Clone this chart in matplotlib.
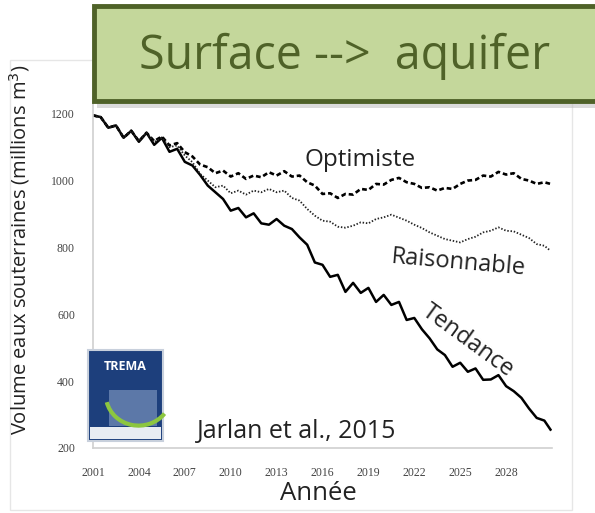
import numpy as np
import matplotlib
matplotlib.use("Agg")
import matplotlib.pyplot as plt
from matplotlib.patches import Rectangle, Arc

plt.rcParams['font.family'] = ['Open Sans', 'DejaVu Sans']

# half-year time steps (last point ends late 2030)
years = list(np.arange(2001.0, 2031.0, 0.5)) + [2030.9]

tendance = [1195, 1190, 1158, 1165, 1128, 1149, 1116, 1143, 1107, 1128,
            1086, 1095, 1056, 1045, 1017, 985, 965, 945, 910, 918,
            890, 902, 872, 868, 885, 865, 855, 830, 808, 755,
            748, 712, 718, 667, 694, 664, 679, 637, 658, 628,
            637, 583, 589, 555, 528, 495, 478, 443, 455, 428,
            438, 404, 405, 418, 385, 370, 350, 318, 290, 282, 255]

optimiste = [1195, 1190, 1158, 1165, 1128, 1149, 1118, 1143, 1118, 1132,
             1105, 1112, 1085, 1072, 1048, 1040, 1022, 1030, 1012, 1022,
             1005, 1015, 1010, 1025, 1015, 1028, 1012, 1015, 995, 985,
             960, 962, 948, 960, 958, 975, 972, 990, 988, 1002,
             1008, 995, 990, 978, 980, 970, 978, 975, 990, 1000,
             1002, 1015, 1012, 1026, 1018, 1022, 1005, 1000, 990, 995, 990]

raisonnable = [1195, 1190, 1158, 1165, 1128, 1149, 1118, 1143, 1115, 1128,
               1100, 1105, 1075, 1055, 1020, 1000, 980, 985, 962, 970,
               958, 970, 965, 975, 965, 970, 948, 940, 915, 895,
               880, 877, 862, 859, 865, 875, 872, 885, 890, 898,
               889, 880, 868, 858, 845, 835, 825, 820, 815, 825,
               832, 845, 850, 860, 850, 848, 838, 828, 810, 805, 790]

xticks = [2001, 2004, 2007, 2010, 2013, 2016, 2019, 2022, 2025, 2028]
yticks = [200, 400, 600, 800, 1000, 1200]

fig = plt.figure(figsize=(5.95, 5.13), dpi=100)
fig.patch.set_facecolor('white')

# light frame of the pasted chart image
fig.patches.append(Rectangle((10 / 595, 0.005), 562 / 595, 450 / 513, transform=fig.transFigure,
                             fill=False, edgecolor='#e6e6e6', linewidth=1.0))

ax = fig.add_axes([93 / 595, 1 - 448 / 513, 459 / 595, 351 / 513])
ax.plot(years, tendance, color='black', linewidth=1.8)
ax.plot(years, optimiste, color='black', linewidth=1.9, linestyle=(0, (1.8, 1.1)))
ax.plot(years, raisonnable, color='#222222', linewidth=1.3, linestyle=(0, (0.8, 1.0)))

ax.set_xlim(2001, 2031)
ax.set_ylim(200, 1250)
ax.set_xticks(xticks)
ax.set_yticks(yticks)
ax.set_xticklabels([str(x) for x in xticks], fontsize=8.5, color='#444444', family='Liberation Serif')
ax.set_yticklabels([str(y) for y in yticks], fontsize=8.5, color='#444444', family='Liberation Serif')
ax.tick_params(axis='x', length=0, pad=14)
ax.tick_params(axis='y', length=0, pad=13)
for side in ['top', 'right']:
    ax.spines[side].set_visible(False)
for side in ['left', 'bottom']:
    ax.spines[side].set_color('#d0d0d0')
    ax.spines[side].set_linewidth(1.2)

# curve labels
ax.text(2014.8, 1062, 'Optimiste', fontsize=17.5, color='#222222', ha='left', va='center')
ax.text(2020.5, 772, 'Raisonnable', fontsize=17, color='#222222', ha='left', va='center',
        rotation=-5, rotation_mode='anchor')
ax.text(2023.1, 645, 'Tendance', fontsize=17, color='#222222', ha='left', va='top', rotation=-36,
        rotation_mode='anchor')
ax.text(2007.8, 212, 'Jarlan et al., 2015', fontsize=18, color='#222222', ha='left', va='bottom')

# TREMA logo (simplified)
lx0, ly0, lw, lh = 88 / 595, 1 - 441 / 513, 75 / 595, 91 / 513
fig.patches.append(Rectangle((lx0, ly0), lw, lh, transform=fig.transFigure,
                             facecolor='#1d3f7c', edgecolor='#c8d0dc', linewidth=1.5, zorder=5))
fig.patches.append(Rectangle((lx0 + 0.003, ly0 + 0.003), lw - 0.006, 0.024, transform=fig.transFigure,
                             facecolor='#e8ecf2', edgecolor='none', zorder=6))
fig.patches.append(Rectangle((lx0 + 0.035, ly0 + 0.03), lw - 0.045, 0.07, transform=fig.transFigure,
                             facecolor='#5c78a8', edgecolor='none', zorder=6))
fig.patches.append(Arc((lx0 + 0.085, ly0 + 0.09), 0.11, 0.12, theta1=195, theta2=320,
                       transform=fig.transFigure, color='#8cc63f', linewidth=3, zorder=7))
fig.text(lx0 + lw / 2, ly0 + lh - 0.033, 'TREMA', fontsize=9, fontweight='bold', color='white',
         ha='center', va='center', zorder=8)

# axis titles
fig.text(20 / 595, 1 - 250 / 513, 'Volume eaux souterraines (millions m$^3$)', fontsize=14.5,
         color='#222222', rotation=90, ha='center', va='center')
fig.text(318 / 595, 1 - 493 / 513, 'Année', fontsize=18.5, color='#222222', ha='center', va='center')

# title box
fig.patches.append(Rectangle((97 / 595, 1 - 108 / 513), 510 / 595, 98 / 513, transform=fig.transFigure,
                             facecolor='#b8b8b8', edgecolor='none', alpha=0.5, zorder=9))
fig.patches.append(Rectangle((94 / 595, 1 - 101 / 513), 510 / 595, 95 / 513, transform=fig.transFigure,
                             facecolor='#c4d79b', edgecolor='#4f6228', linewidth=3.5, zorder=10))
fig.text(345 / 595, 1 - 56 / 513, 'Surface -->  aquifer', fontsize=33.5, color='#4f6228',
         family=['Open Sans', 'DejaVu Sans'], ha='center', va='center', zorder=11)

fig.savefig('out.png', dpi=100)
